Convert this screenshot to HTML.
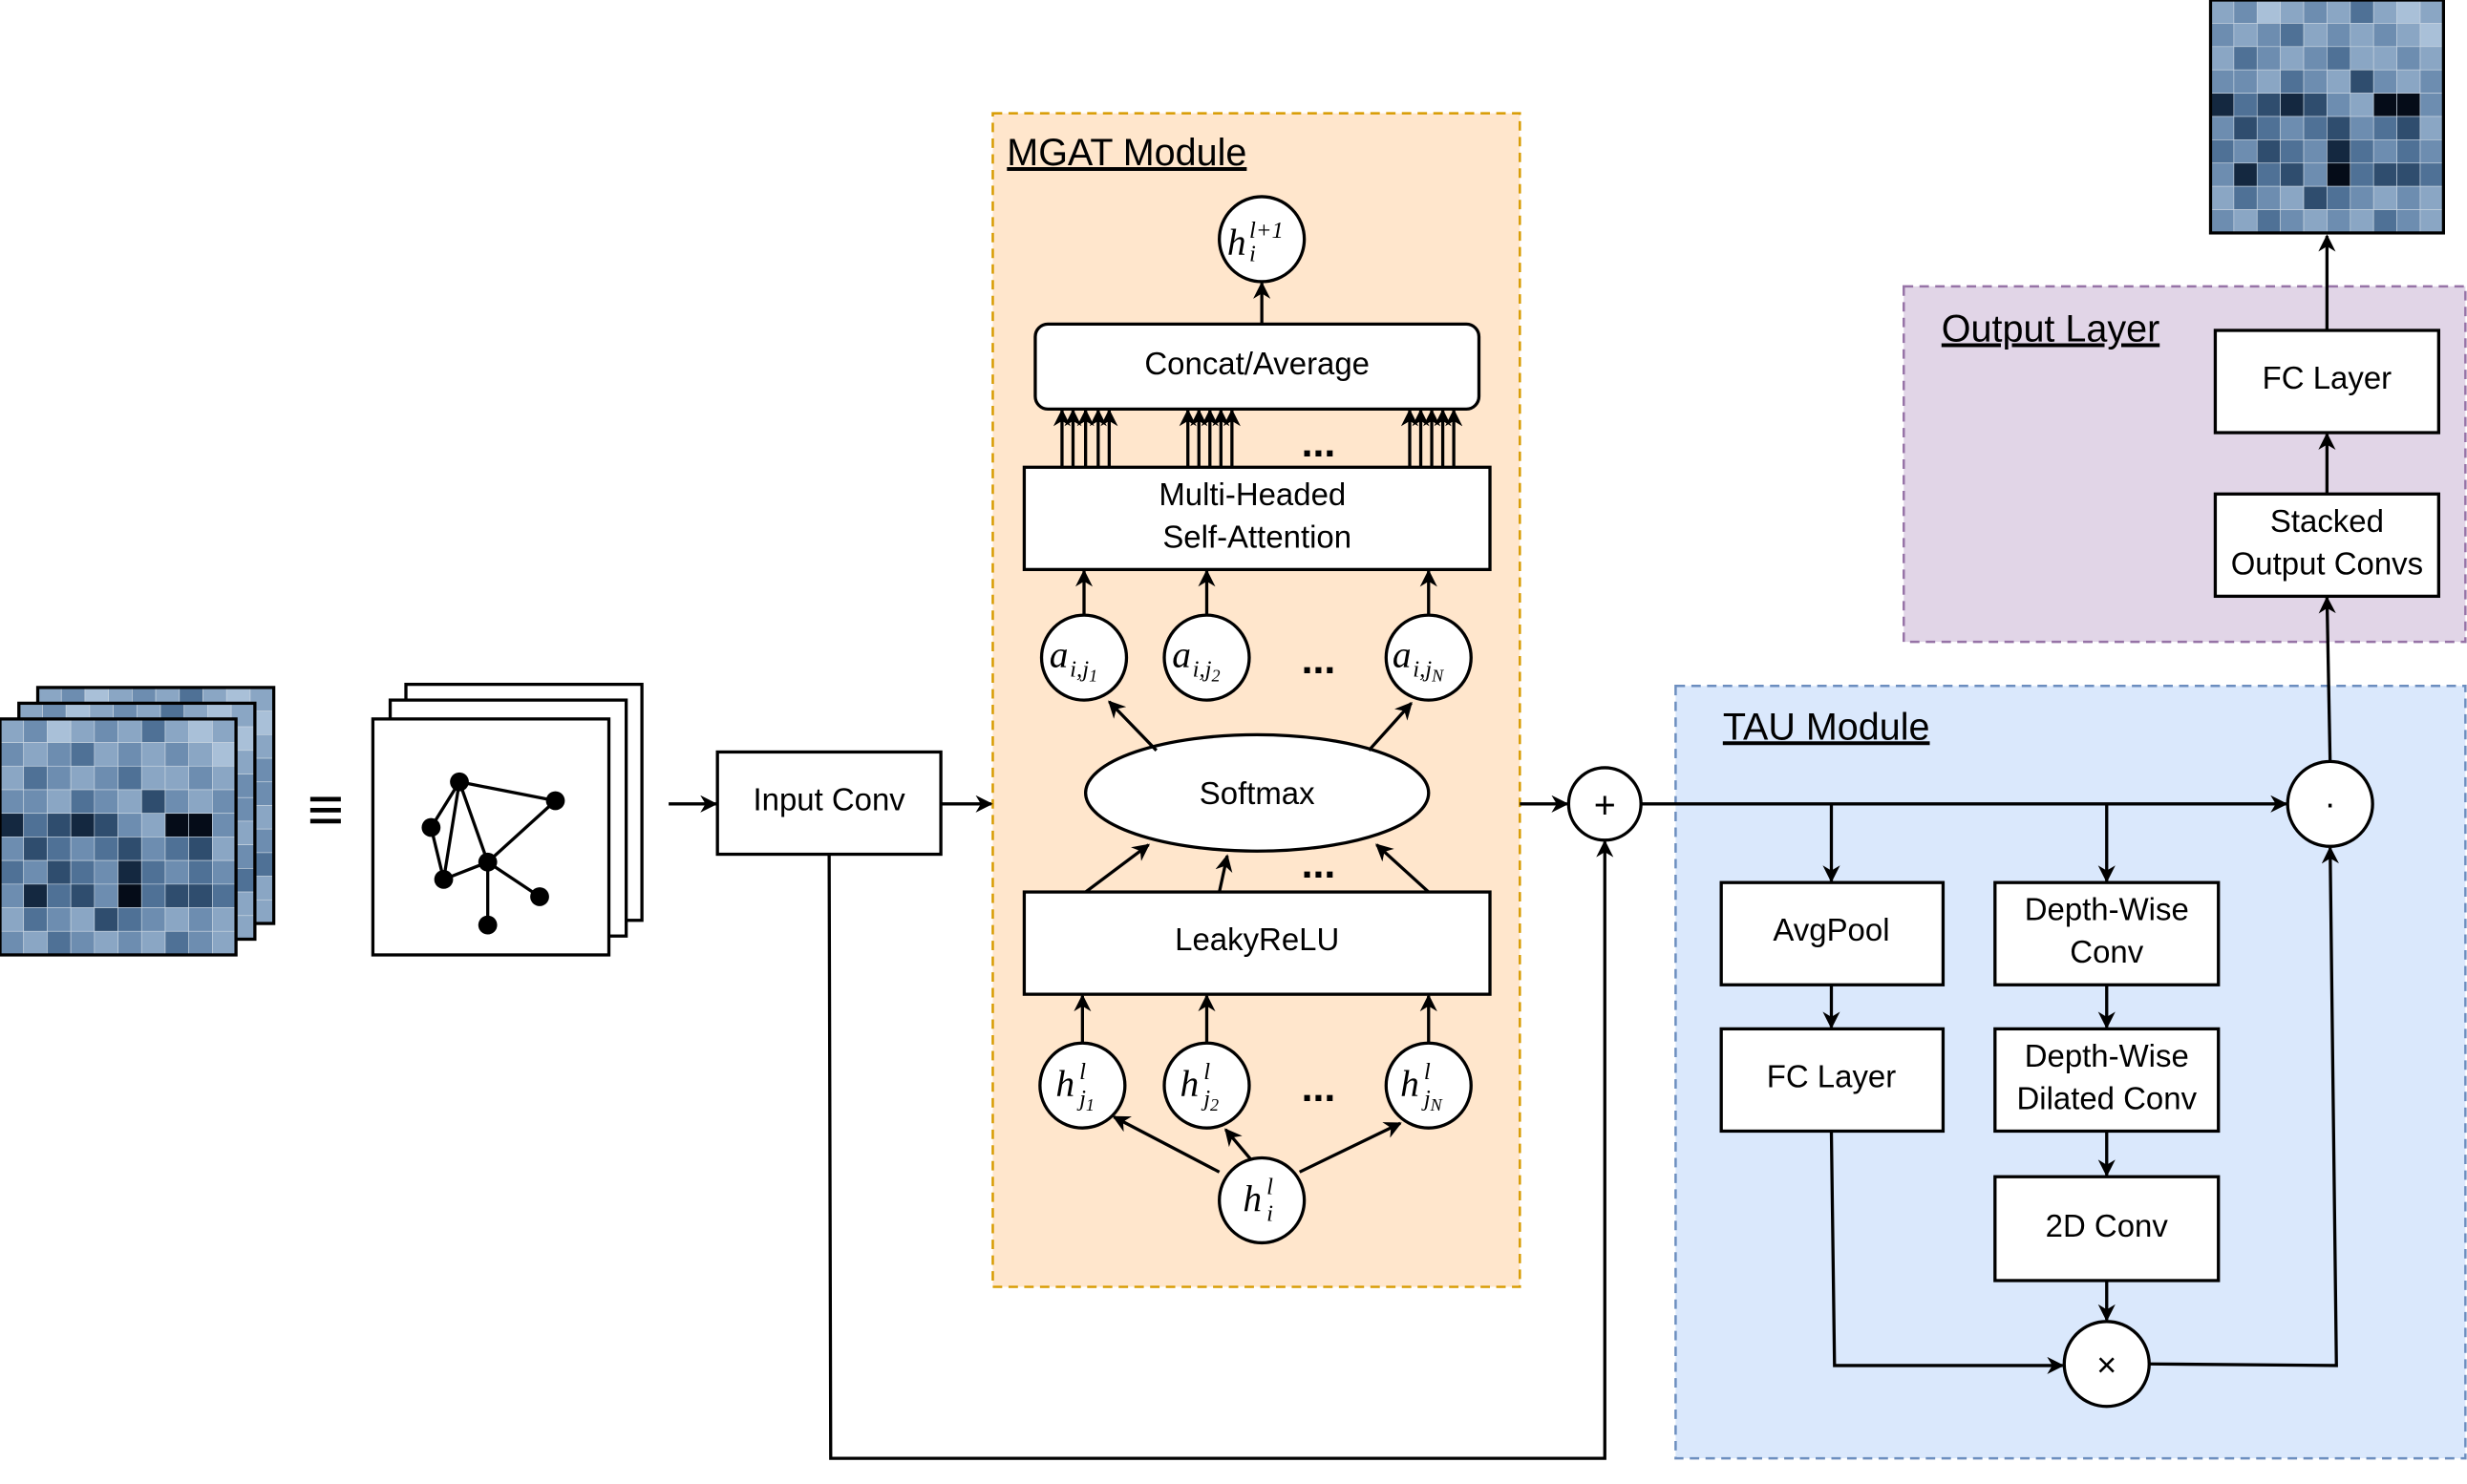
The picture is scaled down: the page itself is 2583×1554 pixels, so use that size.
<!DOCTYPE html>
<html><head><meta charset="utf-8"><style>
html,body{margin:0;padding:0;background:#fff;}
svg{display:block}
text{font-family:"Liberation Sans",sans-serif;}
.m text,.m tspan{font-family:"Liberation Serif",serif;font-style:italic;}
.a{fill:#a9c0d8}.b{fill:#8aa6c4}.c{fill:#6d8db0}.d{fill:#4f7196}.e{fill:#2f4d6e}.f{fill:#142840}.g{fill:#050c18}
#cells rect{width:15px;height:15px;stroke:#c8d4e0;stroke-width:0.4}
</style></head><body>
<svg width="2583" height="1554" viewBox="0 0 1568 943.3" xmlns="http://www.w3.org/2000/svg">
<defs>
<marker id="a" viewBox="0 0 10 10" refX="9" refY="5" markerWidth="11" markerHeight="11" orient="auto" markerUnits="userSpaceOnUse"><path d="M0,0 L10,5 L0,10 L3,5 z" fill="#000"/></marker>
<g id="cells">
<rect x="0" y="0" class="b"/><rect x="15" y="0" class="c"/><rect x="30" y="0" class="a"/><rect x="45" y="0" class="b"/><rect x="60" y="0" class="c"/><rect x="75" y="0" class="b"/><rect x="90" y="0" class="d"/><rect x="105" y="0" class="b"/><rect x="120" y="0" class="a"/><rect x="135" y="0" class="b"/>
<rect x="0" y="15" class="c"/><rect x="15" y="15" class="b"/><rect x="30" y="15" class="c"/><rect x="45" y="15" class="d"/><rect x="60" y="15" class="b"/><rect x="75" y="15" class="c"/><rect x="90" y="15" class="b"/><rect x="105" y="15" class="c"/><rect x="120" y="15" class="b"/><rect x="135" y="15" class="a"/>
<rect x="0" y="30" class="b"/><rect x="15" y="30" class="d"/><rect x="30" y="30" class="c"/><rect x="45" y="30" class="b"/><rect x="60" y="30" class="c"/><rect x="75" y="30" class="d"/><rect x="90" y="30" class="b"/><rect x="105" y="30" class="b"/><rect x="120" y="30" class="c"/><rect x="135" y="30" class="b"/>
<rect x="0" y="45" class="c"/><rect x="15" y="45" class="c"/><rect x="30" y="45" class="b"/><rect x="45" y="45" class="d"/><rect x="60" y="45" class="c"/><rect x="75" y="45" class="b"/><rect x="90" y="45" class="e"/><rect x="105" y="45" class="c"/><rect x="120" y="45" class="b"/><rect x="135" y="45" class="c"/>
<rect x="0" y="60" class="f"/><rect x="15" y="60" class="d"/><rect x="30" y="60" class="e"/><rect x="45" y="60" class="f"/><rect x="60" y="60" class="e"/><rect x="75" y="60" class="c"/><rect x="90" y="60" class="b"/><rect x="105" y="60" class="g"/><rect x="120" y="60" class="g"/><rect x="135" y="60" class="c"/>
<rect x="0" y="75" class="c"/><rect x="15" y="75" class="e"/><rect x="30" y="75" class="d"/><rect x="45" y="75" class="c"/><rect x="60" y="75" class="d"/><rect x="75" y="75" class="e"/><rect x="90" y="75" class="c"/><rect x="105" y="75" class="d"/><rect x="120" y="75" class="e"/><rect x="135" y="75" class="b"/>
<rect x="0" y="90" class="d"/><rect x="15" y="90" class="c"/><rect x="30" y="90" class="e"/><rect x="45" y="90" class="d"/><rect x="60" y="90" class="c"/><rect x="75" y="90" class="f"/><rect x="90" y="90" class="d"/><rect x="105" y="90" class="c"/><rect x="120" y="90" class="d"/><rect x="135" y="90" class="c"/>
<rect x="0" y="105" class="c"/><rect x="15" y="105" class="f"/><rect x="30" y="105" class="d"/><rect x="45" y="105" class="e"/><rect x="60" y="105" class="c"/><rect x="75" y="105" class="g"/><rect x="90" y="105" class="d"/><rect x="105" y="105" class="e"/><rect x="120" y="105" class="e"/><rect x="135" y="105" class="d"/>
<rect x="0" y="120" class="b"/><rect x="15" y="120" class="d"/><rect x="30" y="120" class="c"/><rect x="45" y="120" class="b"/><rect x="60" y="120" class="e"/><rect x="75" y="120" class="d"/><rect x="90" y="120" class="c"/><rect x="105" y="120" class="b"/><rect x="120" y="120" class="c"/><rect x="135" y="120" class="b"/>
<rect x="0" y="135" class="c"/><rect x="15" y="135" class="b"/><rect x="30" y="135" class="d"/><rect x="45" y="135" class="c"/><rect x="60" y="135" class="b"/><rect x="75" y="135" class="c"/><rect x="90" y="135" class="b"/><rect x="105" y="135" class="d"/><rect x="120" y="135" class="c"/><rect x="135" y="135" class="b"/>
<rect x="0" y="0" style="width:150px;height:150px;fill:none;stroke:#000;stroke-width:2"/>
</g>
</defs>
<g stroke="#000" stroke-width="2" fill="none">
<rect x="631" y="72" width="335" height="746" fill="#ffe6cc" stroke="#d79b00" stroke-dasharray="6,4" stroke-width="1.5"/>
<rect x="1210" y="182" width="357" height="226" fill="#e1d5e7" stroke="#9673a6" stroke-dasharray="6,4" stroke-width="1.5"/>
<rect x="1065" y="436" width="502" height="491" fill="#dae8fc" stroke="#6c8ebf" stroke-dasharray="6,4" stroke-width="1.5"/>
</g>
<g font-size="24" fill="#000" text-decoration="underline">
<text x="640" y="105">MGAT Module</text>
<text x="1234" y="217">Output Layer</text>
<text x="1095" y="470">TAU Module</text>
</g>
<use href="#cells" x="24" y="437"/>
<use href="#cells" x="12" y="447"/>
<use href="#cells" x="0" y="457"/>
<use href="#cells" transform="translate(1405,0) scale(0.987)"/>
<g stroke="#000" stroke-width="2" fill="#fff">
<rect x="258" y="435" width="150" height="150"/>
<rect x="248" y="445" width="150" height="150"/>
<rect x="237" y="457" width="150" height="150"/>
</g>
<g stroke="#000" stroke-width="2">
<line x1="292" y1="497" x2="353" y2="509"/><line x1="292" y1="497" x2="274" y2="526"/><line x1="292" y1="497" x2="282" y2="559"/>
<line x1="274" y1="526" x2="282" y2="559"/><line x1="292" y1="497" x2="310" y2="548"/>
<line x1="282" y1="559" x2="310" y2="548"/><line x1="353" y1="509" x2="310" y2="548"/>
<line x1="310" y1="548" x2="343" y2="570"/><line x1="310" y1="548" x2="310" y2="588"/>
</g>
<g fill="#000">
<circle cx="292" cy="497" r="6"/><circle cx="353" cy="509" r="6"/><circle cx="274" cy="526" r="6"/><circle cx="282" cy="559" r="6"/><circle cx="310" cy="548" r="6"/><circle cx="343" cy="570" r="6"/><circle cx="310" cy="588" r="6"/>
</g>
<text x="207" y="528" font-size="40" text-anchor="middle" font-weight="bold">≡</text>
<g stroke="#000" stroke-width="2" fill="#fff">
<rect x="456" y="478" width="142" height="65"/>
<rect x="658" y="206" width="282" height="54" rx="8"/>
<rect x="651" y="297" width="296" height="65"/>
<rect x="651" y="567" width="296" height="65"/>
<ellipse cx="799" cy="504" rx="109" ry="37"/>
<rect x="1094" y="561" width="141" height="65"/>
<rect x="1094" y="654" width="141" height="65"/>
<rect x="1268" y="561" width="142" height="65"/>
<rect x="1268" y="654" width="142" height="65"/>
<rect x="1268" y="748" width="142" height="66"/>
<rect x="1408" y="210" width="142" height="65"/>
<rect x="1408" y="314" width="142" height="65"/>
<circle cx="802" cy="152" r="27"/>
<circle cx="689" cy="418" r="27"/><circle cx="767" cy="418" r="27"/><circle cx="908" cy="418" r="27"/>
<circle cx="688" cy="690" r="27"/><circle cx="767" cy="690" r="27"/><circle cx="908" cy="690" r="27"/>
<circle cx="802" cy="763" r="27"/>
<circle cx="1020" cy="511" r="23"/>
<circle cx="1481" cy="511" r="27"/>
<circle cx="1339" cy="867" r="27"/>
</g>
<g font-size="20" text-anchor="middle" fill="#000">
<text x="527" y="515">Input Conv</text>
<text x="799" y="238">Concat/Average</text>
<text x="796" y="321">Multi-Headed</text><text x="799" y="348">Self-Attention</text>
<text x="799" y="604">LeakyReLU</text>
<text x="799" y="511">Softmax</text>
<text x="1164" y="598">AvgPool</text>
<text x="1164" y="691">FC Layer</text>
<text x="1339" y="585">Depth-Wise</text><text x="1339" y="612">Conv</text>
<text x="1339" y="678">Depth-Wise</text><text x="1339" y="705">Dilated Conv</text>
<text x="1339" y="786">2D Conv</text>
<text x="1479" y="247">FC Layer</text>
<text x="1479" y="338">Stacked</text><text x="1479" y="365">Output Convs</text>
<text x="1020" y="520" font-size="24">+</text>
<text x="1481" y="518" font-size="22">·</text>
<text x="1339" y="875" font-size="22">×</text>
</g>
<g font-size="26" font-weight="bold" text-anchor="middle">
<text x="838" y="290">...</text><text x="838" y="428">...</text><text x="838" y="558">...</text><text x="838" y="700">...</text>
</g>
<g class="m" fill="#000" font-size="24">
<text x="780" y="162">h</text><text x="794" y="151" font-size="15">l+1</text><text x="794" y="166" font-size="15">i</text>
<text x="667" y="424">a</text><text x="680" y="430" font-size="15">i,j<tspan font-size="11" dy="3">1</tspan></text>
<text x="745" y="424">a</text><text x="758" y="430" font-size="15">i,j<tspan font-size="11" dy="3">2</tspan></text>
<text x="885" y="424">a</text><text x="898" y="430" font-size="15">i,j<tspan font-size="11" dy="3">N</tspan></text>
<text x="671" y="697">h</text><text x="686" y="686" font-size="15">l</text><text x="686" y="703" font-size="15">j<tspan font-size="11" dy="3">1</tspan></text>
<text x="750" y="697">h</text><text x="765" y="686" font-size="15">l</text><text x="765" y="703" font-size="15">j<tspan font-size="11" dy="3">2</tspan></text>
<text x="890" y="697">h</text><text x="905" y="686" font-size="15">l</text><text x="905" y="703" font-size="15">j<tspan font-size="11" dy="3">N</tspan></text>
<text x="790" y="770">h</text><text x="805" y="759" font-size="15">l</text><text x="805" y="776" font-size="15">i</text>
</g>
<g stroke="#000" stroke-width="2" fill="none" marker-end="url(#a)">
<line x1="425" y1="511" x2="455" y2="511"/>
<line x1="598" y1="511" x2="630" y2="511"/>
<line x1="966" y1="511" x2="996" y2="511"/>
<line x1="1043" y1="511" x2="1453" y2="511"/>
<polyline points="1164,511 1164,560"/>
<polyline points="1339,511 1339,560"/>
<polyline points="527,543 528,927 1020,927 1020,535"/>
<line x1="1164" y1="626" x2="1164" y2="653"/>
<polyline points="1164,719 1166,868 1311,868"/>
<line x1="1339" y1="626" x2="1339" y2="653"/>
<line x1="1339" y1="719" x2="1339" y2="747"/>
<line x1="1339" y1="814" x2="1339" y2="839"/>
<polyline points="1366,867 1485,868 1481,539"/>
<line x1="1481" y1="484" x2="1479" y2="380"/>
<line x1="1479" y1="314" x2="1479" y2="276"/>
<line x1="1479" y1="210" x2="1479" y2="150"/>
<line x1="802" y1="206" x2="802" y2="180"/>
<line x1="775" y1="745" x2="708" y2="710"/>
<line x1="795" y1="737" x2="779" y2="718"/>
<line x1="826" y1="745" x2="890" y2="714"/>
<line x1="688" y1="663" x2="688" y2="633"/>
<line x1="767" y1="663" x2="767" y2="633"/>
<line x1="908" y1="663" x2="908" y2="633"/>
<line x1="690" y1="567" x2="730" y2="537"/>
<line x1="775" y1="567" x2="780" y2="544"/>
<line x1="908" y1="567" x2="875" y2="537"/>
<line x1="735" y1="477" x2="705" y2="446"/>
<line x1="870" y1="477" x2="897" y2="447"/>
<line x1="689" y1="391" x2="689" y2="363"/>
<line x1="767" y1="391" x2="767" y2="363"/>
<line x1="908" y1="391" x2="908" y2="363"/>
<line x1="675" y1="297" x2="675" y2="261"/><line x1="682" y1="297" x2="682" y2="261"/><line x1="690" y1="297" x2="690" y2="261"/><line x1="698" y1="297" x2="698" y2="261"/><line x1="705" y1="297" x2="705" y2="261"/>
<line x1="755" y1="297" x2="755" y2="261"/><line x1="762" y1="297" x2="762" y2="261"/><line x1="769" y1="297" x2="769" y2="261"/><line x1="776" y1="297" x2="776" y2="261"/><line x1="783" y1="297" x2="783" y2="261"/>
<line x1="896" y1="297" x2="896" y2="261"/><line x1="903" y1="297" x2="903" y2="261"/><line x1="910" y1="297" x2="910" y2="261"/><line x1="917" y1="297" x2="917" y2="261"/><line x1="924" y1="297" x2="924" y2="261"/>
</g>
</svg>
</body></html>
